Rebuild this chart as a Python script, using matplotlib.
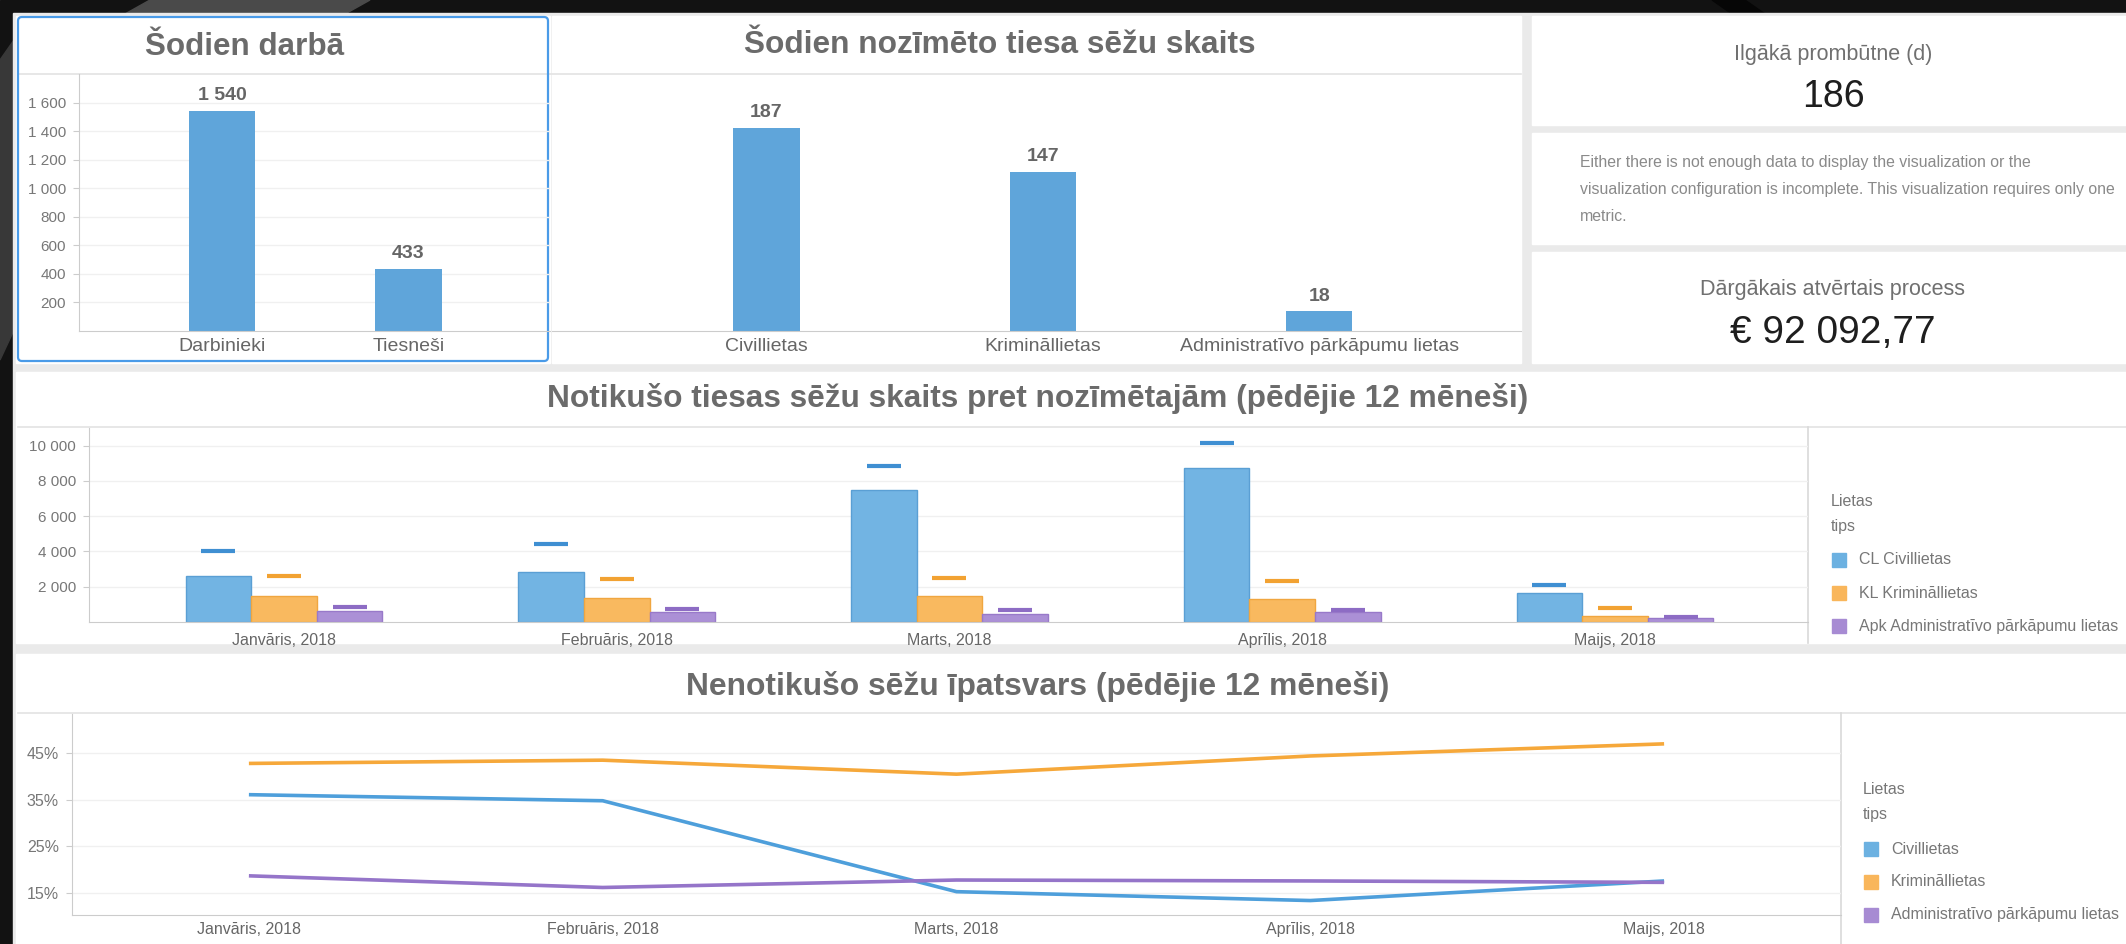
import numpy as np
import matplotlib.pyplot as plt
from matplotlib.patches import Rectangle, FancyBboxPatch, Polygon

plt.rcParams['font.family'] = ['Liberation Sans', 'DejaVu Sans']

# Šodien darbā
staff_cats = ['Darbinieki', 'Tiesneši']
staff_counts = [1540, 433]

# Šodien nozīmētās sēdes
case_cats = ['Civillietas', 'Krimināllietas', 'Administratīvo pārkāpumu lietas']
case_counts = [187, 147, 18]

# pēdējie mēneši
months = ['Janvāris, 2018', 'Februāris, 2018', 'Marts, 2018', 'Aprīlis, 2018', 'Maijs, 2018']
held_cl = [2600, 2850, 7500, 8750, 1650]
held_kl = [1500, 1380, 1500, 1300, 360]
held_apk = [650, 550, 450, 550, 210]
planned_cl = [4050, 4450, 8850, 10150, 2080]
planned_kl = [2600, 2420, 2500, 2350, 800]
planned_apk = [850, 750, 680, 680, 280]

share_cl = [36.1, 34.8, 15.3, 13.4, 17.6]
share_kl = [42.8, 43.5, 40.5, 44.4, 47.0]
share_apk = [18.7, 16.2, 17.8, 17.6, 17.3]

legend_bar = ['CL Civillietas', 'KL Krimināllietas', 'Apk Administratīvo pārkāpumu lietas']
legend_line = ['Civillietas', 'Krimināllietas', 'Administratīvo pārkāpumu lietas']

W, H = 2126, 944
TITLE = '#6b6b6b'
TICK = '#777777'
GRID = '#f0f0f0'
SPINE = '#cccccc'
bar_cols = ['#72b4e3', '#f9b95f', '#ab90d6']
edge_cols = ['#5a9fd4', '#f0a640', '#9879c9']
mark_cols = ['#3f8fd2', '#f2a232', '#8d6cc4']
line_cols = ['#4e9fdb', '#f6a83a', '#9575c9']
leg_cols = ['#6cb1e1', '#f9b65b', '#a78bd3']


def rect(x0, y0, x1, y1):
    return [x0 / W, 1 - y1 / H, (x1 - x0) / W, (y1 - y0) / H]


def thousands(v):
    return f'{v:,}'.replace(',', ' ')


fig = plt.figure(figsize=(W / 100, H / 100), dpi=100)

# fons un paneļi pikseļu koordinātās
bg = fig.add_axes([0, 0, 1, 1], zorder=0)
bg.set_xlim(0, W)
bg.set_ylim(H, 0)
bg.axis('off')

bg.add_patch(Rectangle((0, 0), W, H, color='#121212'))
grad = np.linspace(0.08, 0.26, 200)[None, :]
bg.imshow(grad, extent=(1000, W, 14, 0), cmap='gray', vmin=0, vmax=1, aspect='auto')
bg.add_patch(Polygon([(150, 0), (370, 0), (345, 14), (125, 14)], color='#4a4a4a'))
bg.add_patch(Polygon([(1712, 0), (1745, 0), (1765, 14), (1732, 14)], color='#060606'))
bg.add_patch(Polygon([(0, 60), (14, 40), (14, 330), (0, 360)], color='#383838'))
bg.add_patch(Rectangle((13, 13), W - 13, H - 13, color='#eaeaea'))

for x0, y0, x1, y1 in [(16, 16, 550, 363), (552, 16, 1521, 363),
                       (1532, 16, W, 125), (1532, 133, W, 244), (1532, 252, W, 363),
                       (16, 372, W, 643), (16, 654, W, 944)]:
    bg.add_patch(Rectangle((x0, y0), x1 - x0, y1 - y0, color='white'))

bg.plot([18, 1521], [74, 74], color='#e3e3e3', lw=1.2)
bg.plot([18, W], [427, 427], color='#e3e3e3', lw=1.2)
bg.plot([18, W], [713, 713], color='#e3e3e3', lw=1.2)
bg.plot([1808, 1808], [427, 643], color='#d9d9d9', lw=1.2)
bg.plot([1841, 1841], [713, 944], color='#d9d9d9', lw=1.2)
bg.add_patch(FancyBboxPatch((18, 17), 530, 344, boxstyle='round,pad=0,rounding_size=4',
                            fill=False, ec='#4a9be8', lw=1.6, zorder=5))

# virsraksti
bg.text(245, 55, 'Šodien darbā', fontsize=22.6, fontweight='bold', color=TITLE, ha='center', va='baseline')
bg.text(1000, 53, 'Šodien nozīmēto tiesa sēžu skaits', fontsize=22.8, fontweight='bold',
        color=TITLE, ha='center', va='baseline')
bg.text(1038, 407, 'Notikušo tiesas sēžu skaits pret nozīmētajām (pēdējie 12 mēneši)',
        fontsize=22.8, fontweight='bold', color=TITLE, ha='center', va='baseline')
bg.text(1038, 695, 'Nenotikušo sēžu īpatsvars (pēdējie 12 mēneši)', fontsize=22.9,
        fontweight='bold', color=TITLE, ha='center', va='baseline')

# metrikas
bg.text(1833, 60, 'Ilgākā prombūtne (d)', fontsize=15.5, color='#707070', ha='center', va='baseline')
bg.text(1833, 107, '186', fontsize=27, color='#1e1e1e', ha='center', va='baseline')
msg = ['Either there is not enough data to display the visualization or the',
       'visualization configuration is incomplete. This visualization requires only one',
       'metric.']
for i, line in enumerate(msg):
    bg.text(1580, 167 + 27 * i, line, fontsize=11.4, color='#8a8a8a', ha='left', va='baseline')
bg.text(1833, 295, 'Dārgākais atvērtais process', fontsize=15.5, color='#707070', ha='center', va='baseline')
bg.text(1833, 343, '€ 92 092,77', fontsize=28, color='#1e1e1e', ha='center', va='baseline')


def style_axis(ax, left=True):
    ax.set_facecolor('none')
    for s in ['top', 'right']:
        ax.spines[s].set_visible(False)
    ax.spines['bottom'].set_color(SPINE)
    ax.spines['left'].set_color(SPINE)
    ax.spines['left'].set_visible(left)
    ax.tick_params(axis='x', length=0, colors='#666666')
    ax.tick_params(axis='y', length=4.5, width=0.8, color=SPINE, labelcolor=TICK, pad=5)
    if left:
        ax.yaxis.grid(True, color=GRID, lw=1)
        ax.set_axisbelow(True)


# Šodien darbā
ax1 = fig.add_axes(rect(79, 74, 550, 331), zorder=2)
style_axis(ax1)
x1 = np.arange(len(staff_cats))
ax1.bar(x1, staff_counts, width=0.355, color='#5fa5da')
ax1.set_xlim(-0.77, 1.76)
ax1.set_ylim(0, 1800)
ticks1 = list(range(200, 1700, 200))
ax1.set_yticks(ticks1)
ax1.set_yticklabels([thousands(t) for t in ticks1], fontsize=11)
ax1.set_xticks(x1)
ax1.set_xticklabels(staff_cats, fontsize=14)
ax1.tick_params(axis='x', pad=5)
for xi, v in zip(x1, staff_counts):
    ax1.annotate(thousands(v), (xi, v), xytext=(0, 5), textcoords='offset points',
                 ha='center', va='bottom', fontsize=14, fontweight='bold', color='#666666')

# Šodien nozīmēto sēžu skaits
ax2 = fig.add_axes(rect(552, 74, 1521, 331), zorder=2)
style_axis(ax2, left=False)
ax2.tick_params(axis='y', left=False, labelleft=False)
x2 = np.arange(len(case_cats))
ax2.bar(x2, case_counts, width=0.24, color='#5fa5da')
ax2.set_xlim(-0.776, 2.73)
ax2.set_ylim(0, 237)
ax2.set_xticks(x2)
ax2.set_xticklabels(case_cats, fontsize=14)
ax2.tick_params(axis='x', pad=5)
for xi, v in zip(x2, case_counts):
    ax2.annotate(str(v), (xi, v), xytext=(0, 5), textcoords='offset points',
                 ha='center', va='bottom', fontsize=14, fontweight='bold', color='#666666')

# notikušās un nozīmētās sēdes
ax3 = fig.add_axes(rect(89, 428, 1808, 622), zorder=2)
style_axis(ax3)
xm = np.arange(len(months))
bw = 0.197
held = [held_cl, held_kl, held_apk]
planned = [planned_cl, planned_kl, planned_apk]
for k in range(3):
    pos = xm + (k - 1) * bw
    ax3.bar(pos, held[k], width=bw, color=bar_cols[k], edgecolor=edge_cols[k], lw=1)
    ax3.plot(pos, planned[k], linestyle='none', marker='_', ms=25, mew=3, color=mark_cols[k])
ax3.set_xlim(-0.586, 4.58)
ax3.set_ylim(0, 11000)
ticks3 = list(range(2000, 10001, 2000))
ax3.set_yticks(ticks3)
ax3.set_yticklabels([thousands(t) for t in ticks3], fontsize=11)
ax3.set_xticks(xm)
ax3.set_xticklabels(months, fontsize=11.5)
ax3.tick_params(axis='x', pad=8)

# nenotikušo sēžu īpatsvars
ax4 = fig.add_axes(rect(72, 714, 1841, 915), zorder=2)
style_axis(ax4)
for k, ser in enumerate([share_cl, share_kl, share_apk]):
    ax4.plot(xm, ser, color=line_cols[k], lw=2.6, solid_capstyle='butt')
ax4.set_xlim(-0.5, 4.5)
ax4.set_ylim(10.3, 53.4)
ticks4 = [15, 25, 35, 45]
ax4.set_yticks(ticks4)
ax4.set_yticklabels([f'{t}%' for t in ticks4], fontsize=11.5)
ax4.set_xticks(xm)
ax4.set_xticklabels(months, fontsize=11.5)
ax4.tick_params(axis='x', pad=5)


def draw_legend(x, y0, labels):
    bg.text(x, y0, 'Lietas', fontsize=11.5, color=TICK, ha='left', va='center')
    bg.text(x, y0 + 25, 'tips', fontsize=11.5, color=TICK, ha='left', va='center')
    for k, lab in enumerate(labels):
        yc = y0 + 59 + 33 * k
        bg.add_patch(Rectangle((x + 1, yc - 7), 14, 14, color=leg_cols[k]))
        bg.text(x + 28, yc, lab, fontsize=11.5, color=TICK, ha='left', va='center')


draw_legend(1831, 501, legend_bar)
draw_legend(1863, 790, legend_line)

fig.savefig('out.png', dpi=100)
